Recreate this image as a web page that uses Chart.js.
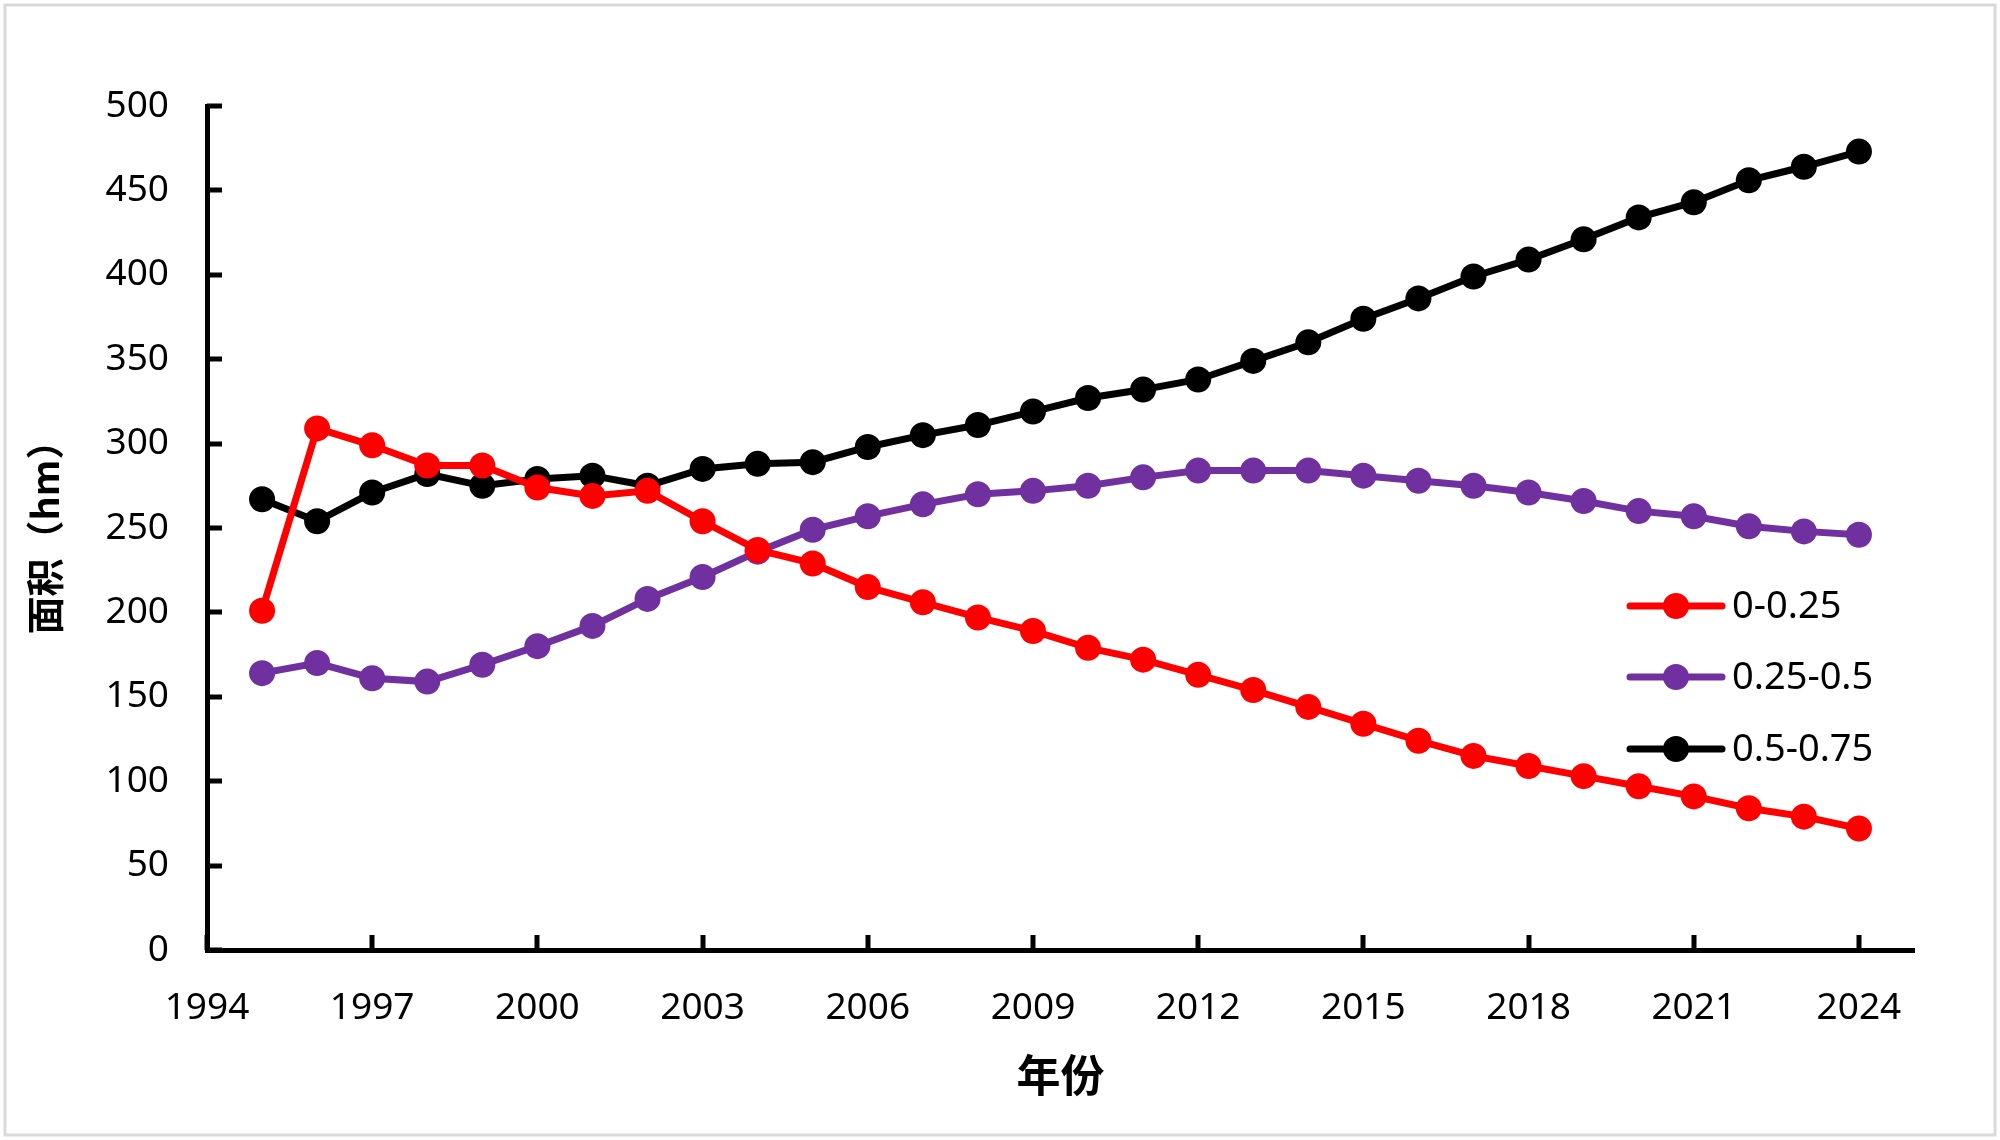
<!DOCTYPE html>
<html>
<head>
<meta charset="utf-8">
<script src="https://cdn.jsdelivr.net/npm/chart.js@4.4.1/dist/chart.umd.min.js"></script>
<style>
  body { margin: 0; background: #fff; }
  canvas { display: block; }
</style>
</head>
<body>
<canvas id="areaChart" width="2000" height="1140"></canvas>
<script>
var years = [1995, 1996, 1997, 1998, 1999, 2000, 2001, 2002, 2003, 2004,
             2005, 2006, 2007, 2008, 2009, 2010, 2011, 2012, 2013, 2014,
             2015, 2016, 2017, 2018, 2019, 2020, 2021, 2022, 2023, 2024];
var seriesNames = ['0-0.25', '0.25-0.5', '0.5-0.75'];
var low = [201, 309, 299, 287, 287, 274, 269, 272, 254, 237,
           229, 215, 206, 197, 189, 179, 172, 163, 154, 144,
           134, 124, 115, 109, 103, 97, 91, 84, 79, 72];
var mid = [164, 170, 161, 159, 169, 180, 192, 208, 221, 236,
           249, 257, 264, 270, 272, 275, 280, 284, 284, 284,
           281, 278, 275, 271, 266, 260, 257, 251, 248, 246];
var high = [267, 254, 271, 282, 275, 279, 281, 275, 285, 288,
            289, 298, 305, 311, 319, 327, 332, 338, 349, 360,
            374, 386, 399, 409, 421, 434, 443, 456, 464, 473];
var xTickYears = [1994, 1997, 2000, 2003, 2006, 2009, 2012, 2015, 2018, 2021, 2024];

var colors = ['#FF0000', '#7030A0', '#000000'];
var tickFont = { family: '"Noto Sans", sans-serif', size: 37 };

function toPoints(vals) {
    return vals.map(function (v, i) { return { x: years[i], y: v }; });
}

function makeSet(label, vals, color) {
    return {
        label: label,
        data: toPoints(vals),
        borderColor: color,
        backgroundColor: color,
        borderWidth: 7,
        pointRadius: 13,
        pointBorderWidth: 0,
        pointBackgroundColor: color,
        tension: 0
    };
}

// frame, inward tick marks and the legend inside the plot
var decor = {
    id: 'decor',
    beforeDraw: function (chart) {
        var c = chart.ctx;
        c.save();
        c.fillStyle = '#fff';
        c.fillRect(0, 0, chart.width, chart.height);
        c.strokeStyle = '#d9d9d9';
        c.lineWidth = 3;
        c.strokeRect(5, 5, chart.width - 10, chart.height - 10);
        c.restore();
    },
    afterDraw: function (chart) {
        var c = chart.ctx, a = chart.chartArea;
        var xs = chart.scales.x, ys = chart.scales.y;
        c.save();
        c.strokeStyle = '#000';
        c.lineWidth = 5;
        ys.ticks.forEach(function (t) {
            var py = Math.round(ys.getPixelForValue(t.value));
            c.beginPath(); c.moveTo(a.left, py); c.lineTo(a.left + 15, py); c.stroke();
        });
        xs.ticks.forEach(function (t) {
            var px = Math.round(xs.getPixelForValue(t.value));
            c.beginPath(); c.moveTo(px, a.bottom); c.lineTo(px, a.bottom - 15); c.stroke();
        });
        // legend
        var x0 = a.right - 284;
        var rows = [500, 571, 643];
        c.font = '38px "Noto Sans", sans-serif';
        c.textBaseline = 'middle';
        c.textAlign = 'left';
        chart.data.datasets.forEach(function (ds, i) {
            var y = a.top + rows[i];
            c.strokeStyle = ds.borderColor;
            c.lineWidth = 7;
            c.lineCap = 'round';
            c.beginPath(); c.moveTo(x0, y); c.lineTo(x0 + 92, y); c.stroke();
            c.fillStyle = ds.borderColor;
            c.beginPath(); c.arc(x0 + 46, y, 13, 0, Math.PI * 2); c.fill();
            c.fillStyle = '#000';
            c.fillText(ds.label, x0 + 102, y + 1);
        });
        c.restore();
    }
};

var areaCtx = document.getElementById('areaChart').getContext('2d');
var areaChart = new Chart(areaCtx, {
    type: 'line',
    data: {
        datasets: [
            makeSet(seriesNames[0], low, colors[0]),
            makeSet(seriesNames[1], mid, colors[1]),
            makeSet(seriesNames[2], high, colors[2])
        ]
    },
    options: {
        responsive: false,
        animation: false,
        devicePixelRatio: 1,
        layout: {
            padding: { left: 0, top: 106, right: 86, bottom: 0 }
        },
        plugins: {
            legend: { display: false },
            tooltip: { enabled: false }
        },
        scales: {
            x: {
                type: 'linear',
                min: 1994,
                max: 2025,
                afterBuildTicks: function (scale) {
                    scale.ticks = xTickYears.map(function (v) { return { value: v }; });
                },
                afterFit: function (scale) { scale.height = 190; },
                grid: { display: false, drawTicks: false },
                border: { display: true, color: '#000', width: 5 },
                ticks: {
                    color: '#000',
                    font: tickFont,
                    padding: 36,
                    maxRotation: 0,
                    autoSkip: false,
                    callback: function (v) { return String(v); }
                },
                title: {
                    display: true,
                    text: '年份',
                    color: '#000',
                    font: { family: '"Noto Sans CJK SC", sans-serif', size: 44, weight: 'bold' },
                    padding: { top: 0, bottom: 38 }
                }
            },
            y: {
                min: 0,
                max: 500,
                afterFit: function (scale) { scale.width = 207; },
                grid: { display: false, drawTicks: false },
                border: { display: true, color: '#000', width: 5 },
                ticks: {
                    color: '#000',
                    font: tickFont,
                    stepSize: 50,
                    padding: 38
                },
                title: {
                    display: true,
                    text: '面积（hm）',
                    color: '#000',
                    font: { family: '"Noto Sans CJK SC", sans-serif', size: 38, weight: 'bold' },
                    padding: { top: 22, bottom: 0 }
                }
            }
        }
    },
    plugins: [decor]
});
</script>
</body>
</html>
